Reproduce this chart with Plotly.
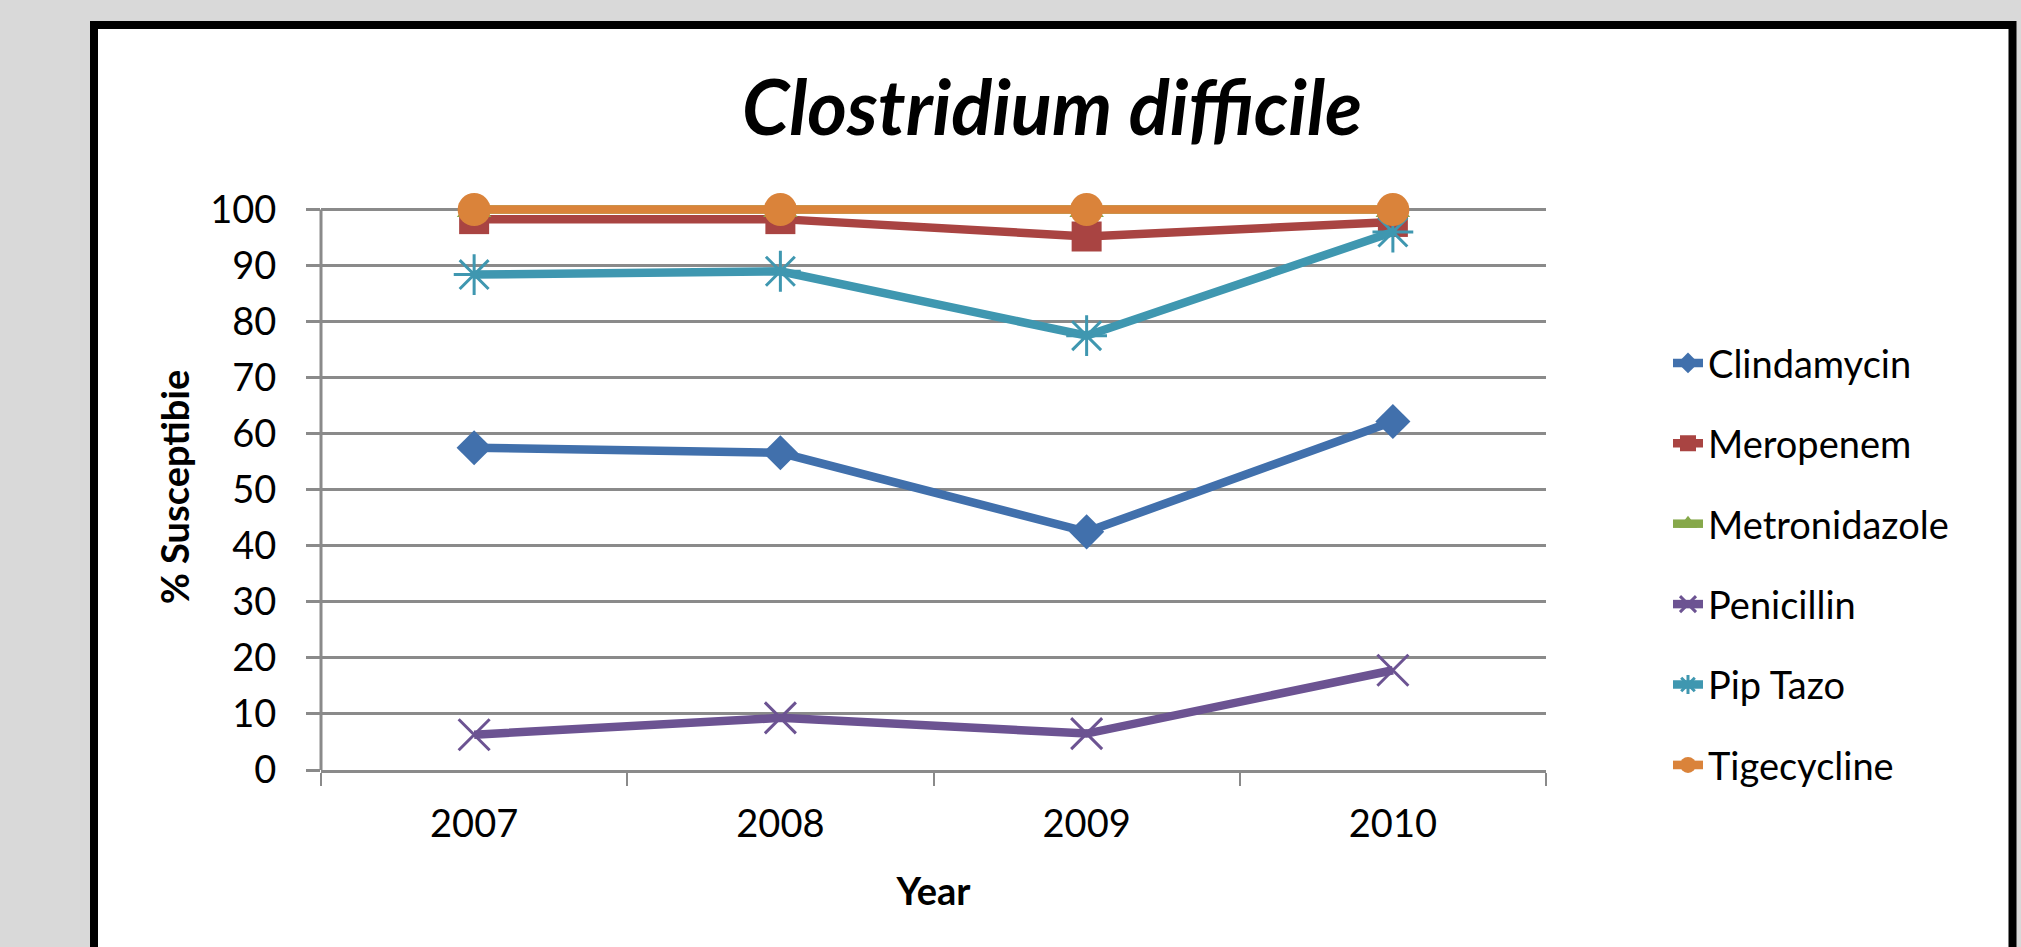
import plotly.graph_objects as go

years = ["2007", "2008", "2009", "2010"]
clindamycin = [57.5, 56.6, 42.5, 62.2]
meropenem = [98.3, 98.3, 95.2, 97.8]
metronidazole = [100, 100, 100, 100]
penicillin = [6.3, 9.3, 6.5, 17.8]
pip_tazo = [88.4, 89.0, 77.5, 96.0]
tigecycline = [100, 100, 100, 100]

series_names = ["Clindamycin", "Meropenem", "Metronidazole", "Penicillin", "Pip Tazo", "Tigecycline"]
series_values = [clindamycin, meropenem, metronidazole, penicillin, pip_tazo, tigecycline]
colors = ["#4170AC", "#A94442", "#86A84A", "#6C5392", "#3F97B0", "#DA833A"]
symbols = ["diamond", "square", "triangle-up", "x-thin-open", "asterisk-open", "circle"]
sizes = [27, 30, 30, 31, 34, 33]

FONT = "Lato, 'Open Sans', sans-serif"
GRID = "#8A8A8A"
Y_TOP = 101  # tiny headroom so lines at 100 are not clipped

fig = go.Figure()
for i, (name, vals) in enumerate(zip(series_names, series_values)):
    open_sym = symbols[i].endswith("open")
    fig.add_trace(go.Scatter(
        x=years, y=vals, name=name, mode="lines+markers",
        legendgroup=name,
        line=dict(color=colors[i], width=8.5),
        marker=dict(symbol=symbols[i], size=sizes[i], color=colors[i],
                    line=dict(color=colors[i], width=3 if open_sym else 0)),
        cliponaxis=False,
    ))

W, H = 2021, 947
L, R, B = 321, 1546, 770
Y100 = 210
ph = (B - Y100) * Y_TOP / 100.0
T = B - ph
pw = R - L

def px(x):
    return (x - L) / pw

def py(y):
    return (B - y) / ph

# chart-area box (white with thick black border)
fig.add_shape(type="rect", xref="paper", yref="paper",
              x0=px(94), x1=px(2012.5), y0=py(990), y1=py(25.5),
              fillcolor="white", line=dict(color="black", width=8), layer="below")
# vertical axis line, stopping at the 100 gridline
fig.add_shape(type="line", xref="paper", yref="y", x0=0, x1=0, y0=0, y1=100,
              line=dict(color=GRID, width=3), layer="below")

fig.update_layout(
    width=W, height=H,
    margin=dict(l=L, r=W - R, t=T, b=H - B, pad=0),
    paper_bgcolor="#D9D9D9", plot_bgcolor="rgba(0,0,0,0)",
    font=dict(family=FONT, size=38, color="black"),
    title=dict(text="<b><i>Clostridium difficile</i></b>", x=1052 / W, xanchor="center",
               y=1 - 108 / H, yanchor="middle", yref="container",
               font=dict(family=FONT, size=76, color="black")),
    showlegend=True,
    legend=dict(x=px(1668), xanchor="left", y=py(332), yanchor="top",
                font=dict(family=FONT, size=38, color="black"),
                tracegroupgap=28, bgcolor="rgba(0,0,0,0)", itemsizing="trace"),
    xaxis=dict(type="category", categoryorder="array", categoryarray=years,
               range=[-0.5, 3.5], showgrid=False, showline=True, linecolor=GRID, linewidth=3,
               ticks="outside", tickson="boundaries", ticklen=13, tickwidth=2, tickcolor=GRID,
               ticklabelstandoff=18,
               tickfont=dict(family=FONT, size=38),
               title=dict(text="<b>Year</b>", standoff=35, font=dict(family=FONT, size=38)),
               zeroline=False, fixedrange=True),
    yaxis=dict(range=[0, Y_TOP], tickvals=list(range(0, 101, 10)), showgrid=True,
               gridcolor=GRID, gridwidth=2.5, showline=False,
               ticks="outside", ticklen=14, tickwidth=2.5, tickcolor=GRID,
               ticklabelstandoff=22,
               tickfont=dict(family=FONT, size=38),
               title=dict(text="<b>% Susceptibie</b>", standoff=8, font=dict(family=FONT, size=38)),
               zeroline=False, fixedrange=True),
)

fig.write_html("out.html", config={"displayModeBar": False},
               post_script="document.body.style.margin='0px';")
